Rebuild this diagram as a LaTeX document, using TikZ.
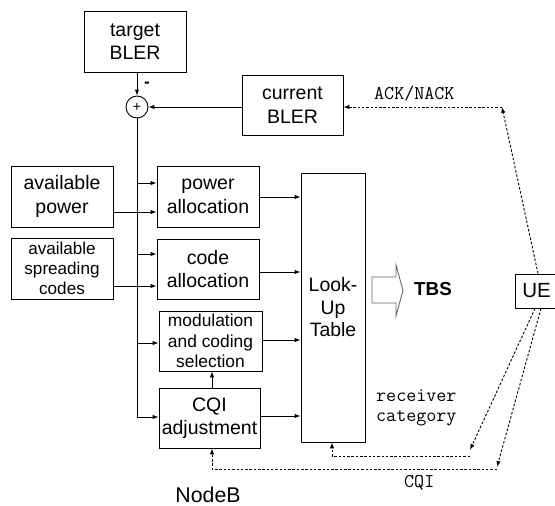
\documentclass[tikz,border=0pt]{standalone}
\usepackage{fontspec}
\setmainfont{Liberation Sans}
\usetikzlibrary{arrows.meta}

\tikzset{
  box/.style={draw, line width=0.9pt, inner sep=0pt, align=center,
    font=\fontsize{19.5}{23.5}\selectfont},
  arr/.style={line width=0.9pt, -{Latex[length=6pt,width=4.5pt]}},
  dl/.style={line width=0.9pt, dash pattern=on 2.5pt off 1.8pt,
    -{Latex[length=6pt,width=4.5pt]}},
  lbl/.style={font=\ttfamily\fontsize{19.5}{20}\selectfont, inner sep=0pt,
    anchor=base west, align=left},
}

\begin{document}
\begin{tikzpicture}[x=1pt,y=-1pt]
\useasboundingbox (0,0) rectangle (555,506);

% BLER control loop
\node[box, minimum width=102, minimum height=61] (tb) at (135,41.5) {target\\BLER};
\node[box, minimum width=101, minimum height=60] (cb) at (292.5,105) {current\\BLER};
\node[draw, circle, line width=0.9pt, minimum size=22, inner sep=0pt,
      font=\fontsize{14}{14}\selectfont] (sum) at (137,107) {+};
\node[font=\bfseries\fontsize{17}{17}\selectfont, inner sep=0pt] (minus) at (147,85) {-};

% inputs
\node[box, minimum width=102, minimum height=61] (ap) at (62,196.5) {available\\power};
\node[box, minimum width=102, minimum height=61,
      font=\fontsize{17.1}{20}\selectfont] (sc) at (62,268.5) {available\\spreading\\codes};

% allocation stages
\node[box, minimum width=102, minimum height=61] (pa) at (208,196.5) {power\\allocation};
\node[box, minimum width=102, minimum height=60] (ca) at (208,269) {code\\allocation};
\node[box, minimum width=103, minimum height=60,
      font=\fontsize{17.4}{20.5}\selectfont] (mc) at (210.5,341) {modulation\\and coding\\selection};
\node[box, minimum width=101, minimum height=60] (cq) at (209.5,418) {CQI\\adjustment};

% look-up table and output
\node[box, minimum width=64, minimum height=269,
      font=\fontsize{19.4}{22.5}\selectfont] (lut) at (333,307.5) {Look-\\Up\\Table};
\draw[line width=0.9pt, draw=black!60] (372,277) -- (396,277) -- (396,265) -- (403,290.5)
  -- (396,316) -- (396,303) -- (372,303) -- cycle;
\node[font=\bfseries\fontsize{18.8}{20}\selectfont, inner sep=0pt, anchor=base] (tbs) at (433,295) {TBS};

% terminal
\node[box, minimum width=43, minimum height=34, font=\fontsize{20.5}{22}\selectfont] (ue) at (536.5,291) {UE};
\node[font=\fontsize{21.3}{22}\selectfont, inner sep=0pt, anchor=base] (nb) at (208,502) {NodeB};

% summing junction
\draw[arr] (tb.south -| sum) -- (sum.north);
\draw[arr] (cb.west |- sum) -- (sum.east);
\coordinate (trunk) at (137,417);
\draw[line width=0.9pt] (sum.south) -- (trunk);

% trunk branches
\draw[arr] (sum |- 0,183) -- (pa.west |- 0,183);
\draw[arr] (sum |- 0,254) -- (ca.west |- 0,254);
\draw[arr] (sum |- 0,343) -- (mc.west |- 0,343);
\draw[arr] (trunk) -- (cq.west |- trunk);

% resource inputs
\draw[arr] (ap.east |- 0,212) -- (pa.west |- 0,212);
\draw[arr] (sc.east |- 0,286) -- (ca.west |- 0,286);

% into the table
\draw[arr] (pa.east |- 0,197) -- (lut.west |- 0,197);
\draw[arr] (ca.east |- 0,272) -- (lut.west |- 0,272);
\draw[arr] (mc.east |- 0,340) -- (lut.west |- 0,340);
\draw[arr] (cq.east |- 0,416) -- (lut.west |- 0,416);
\draw[arr] (cq.north -| 212,0) -- (mc.south -| 212,0);

% feedback from the UE
\coordinate (ackc) at (502,107);
\draw[dl] (ue.north -| 538,0) -- (ackc);
\draw[dl] (ackc) -- (cb.east |- ackc);
\node[lbl] (ack) at (374,99.3) {ACK/NACK};

\coordinate (rcc) at (470,450);
\coordinate (rcs) at (470,456);
\draw[dl] (ue.south -| 535,0) -- (rcc);
\draw[dl] (rcs) -- (332,456) -- (lut.south -| 332,0);
\node[lbl] (rc) at (376,421.7) {receiver\\category};

\coordinate (cqc) at (497,467);
\coordinate (cqs) at (497,469);
\draw[dl] (ue.south -| 541,0) -- (cqc);
\draw[dl] (cqs) -- (212,469) -- (cq.south -| 212,0);
\node[lbl] (cqi) at (404,487.7) {CQI};
\end{tikzpicture}
\end{document}
